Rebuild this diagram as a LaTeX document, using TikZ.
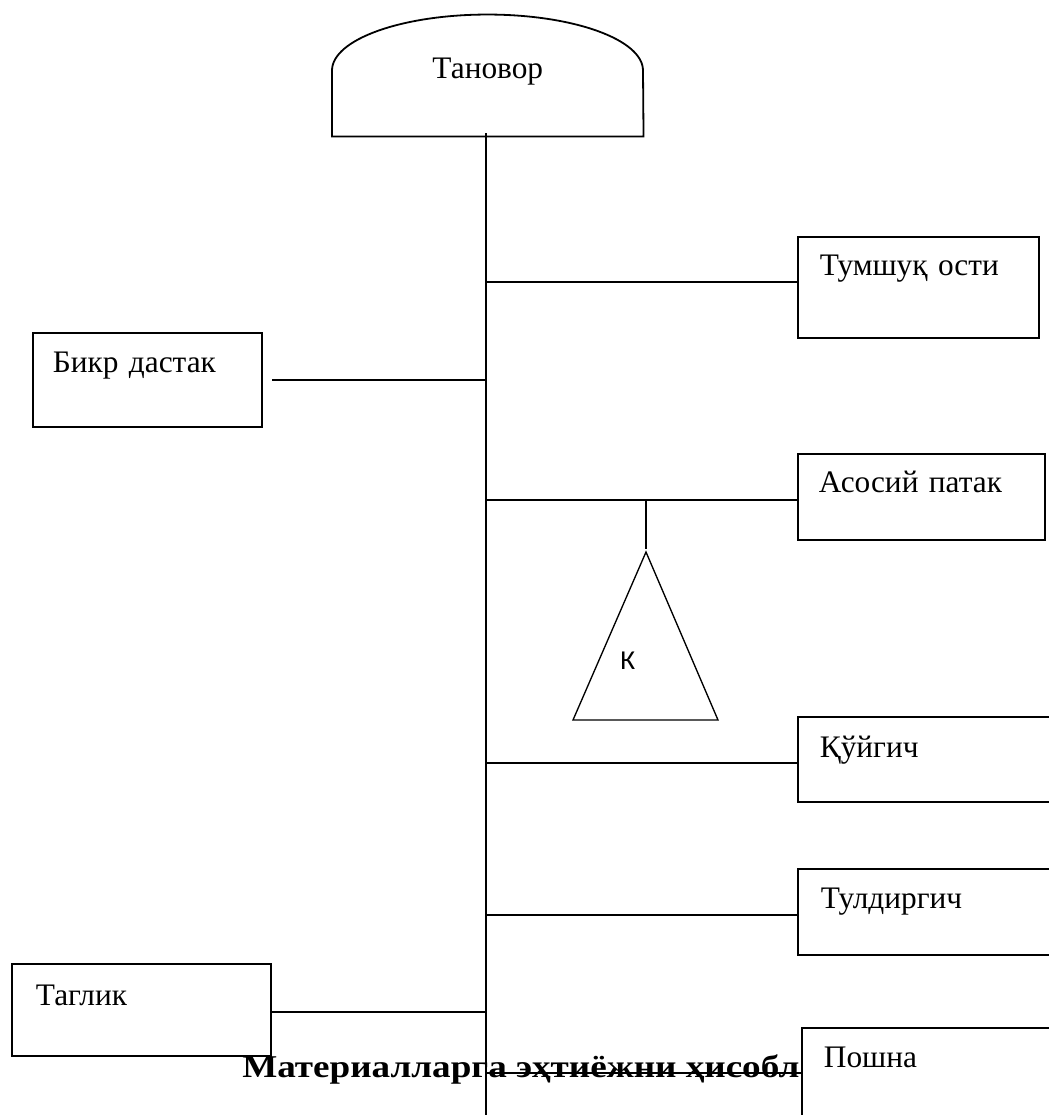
\documentclass[tikz,border=0pt]{standalone}
\usepackage{fontspec}
\setmainfont{Liberation Serif}
\newfontfamily\kfont{Carlito}
\begin{document}
\begin{tikzpicture}[x=0.75pt,y=-0.75pt,
  line/.style={line width=1.35pt},
  trunkline/.style={line width=1.5pt},
  part/.style={draw, line width=1.35pt, anchor=north west, inner ysep=0pt, align=left,
    font=\fontsize{23.5}{28}\selectfont},
]
\path[use as bounding box, clip] (0,0) rectangle (1049,1115);

% top node
\node[anchor=north west, inner sep=0pt, text width=233.25pt, align=center,
  text height=47.25pt, text depth=43.5pt, font=\fontsize{23.5}{28}\selectfont] (tan) at (332,15) {Тановор};
\draw[line] (tan.south west) -- ([yshift=49.5pt]tan.south west)
  arc[start angle=180, end angle=0, x radius=116.625pt, y radius=42pt]
  -- (tan.south east) -- cycle;

% boxes
\node[part, inner xsep=16.5pt, text width=147.75pt, text height=29.25pt, text depth=46.5pt] (tum) at (797,236) {Тумшуқ ости};
\node[part, inner xsep=15pt, text width=141.75pt, text height=30pt, text depth=40.5pt] (bikr) at (32,332) {Бикр дастак};
\node[part, inner xsep=15.75pt, text width=153.75pt, text height=29.25pt, text depth=35.25pt] (asos) at (797,453) {Асосий патак};
\node[part, inner xsep=16.5pt, text width=164.25pt, text height=30.75pt, text depth=33pt] (kuy) at (797,716) {Қўйгич};
\node[part, inner xsep=17.25pt, text width=162.75pt, text height=30pt, text depth=34.5pt] (tuld) at (797,868) {Тулдиргич};
\node[part, inner xsep=18pt, text width=158.25pt, text height=31.5pt, text depth=37.5pt] (tag) at (11,963) {Таглик};
\node[part, inner xsep=16.5pt, text width=161.25pt, text height=30pt, text depth=60pt] (posh) at (801,1027) {Пошна};

% trunk
\coordinate (ttop) at (486,133);
\coordinate (tbot) at (486,1125);
\draw[trunkline] (ttop) -- (tbot);

\coordinate (j1) at (486,282);
\coordinate (j2) at (486,380);
\coordinate (j3) at (486,500);
\coordinate (j4) at (486,763);
\coordinate (j5) at (486,915);
\coordinate (j6) at (486,1012);
\coordinate (j7) at (486,1073);

\draw[line] (j1) -- (j1 -| tum.west);
\draw[line, shorten >=6.75pt] (j2) -- (j2 -| bikr.east);
\draw[line] (j3) -- (j3 -| asos.west);
\draw[line] (j4) -- (j4 -| kuy.west);
\draw[line] (j5) -- (j5 -| tuld.west);
\draw[line] (j6) -- (j6 -| tag.east);
\draw[line] (j7) -- (j7 -| posh.west);

% triangle
\coordinate (apex) at (646,552);
\coordinate (tbl) at (573,720);
\coordinate (tbr) at (718,720);
\draw[line width=1pt, line join=miter] (apex) -- (tbr) -- (tbl) -- cycle;
\draw[line, shorten >=2pt] (apex |- j3) -- (apex);
\node[anchor=base west, inner sep=0pt, font=\kfont\fontsize{20.5}{24}\selectfont] (klab) at (620,669) {К};

% title
\node[anchor=base west, inner sep=0pt, xscale=1.17, transform shape, font=\fontsize{23.8}{28}\selectfont\bfseries] (title) at (242,1077) {Материалларга эҳтиёжни ҳисобл};
\end{tikzpicture}
\end{document}
